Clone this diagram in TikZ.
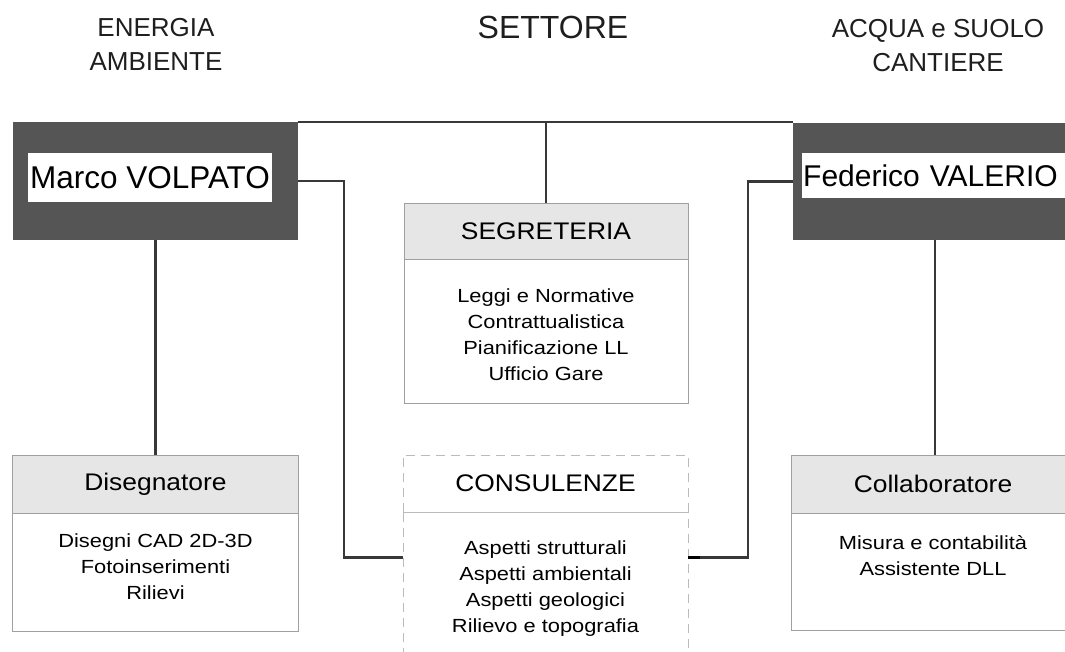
\documentclass[tikz,border=0pt]{standalone}
\usepackage{fontspec}
\setmainfont{Liberation Sans}
\usetikzlibrary{calc}
\definecolor{conncol}{HTML}{383838}
\definecolor{darkfill}{HTML}{555555}
\definecolor{hdrfill}{HTML}{E6E6E6}
\definecolor{boxline}{HTML}{A0A0A0}
\definecolor{dashline}{HTML}{BBBBBB}
\definecolor{labelcol}{HTML}{1E1E1E}
\begin{document}
\begin{tikzpicture}[x=1pt,y=-1pt,
  conn/.style={draw=conncol, line width=2.2pt},
  darkbox/.style={draw=none, fill=darkfill, inner sep=0pt},
  namebox/.style={draw=none, fill=white, inner sep=1pt, font=\fontsize{31.5}{36}\selectfont},
  hdr/.style={draw=boxline, fill=hdrfill, line width=0.8pt, inner sep=0pt, minimum height=58},
  bdy/.style={draw=boxline, fill=white, line width=0.8pt, inner sep=0pt, anchor=north},
  dashhdr/.style={draw=dashline, fill=white, line width=0.9pt, dash pattern=on 9pt off 6pt, inner sep=0pt, minimum height=57},
  dashbdy/.style={draw=dashline, fill=white, line width=0.9pt, dash pattern=on 9pt off 6pt, inner sep=0pt, anchor=north},
  titletext/.style={font=\fontsize{24}{28}\selectfont, xscale=1.1, transform shape, inner sep=0pt},
  bodytext/.style={font=\fontsize{19}{26}\selectfont, align=center, xscale=1.15, transform shape, inner sep=0pt},
  toplabel/.style={font=\fontsize{26}{34}\selectfont, align=center, text=labelcol, inner sep=0pt}
]
\useasboundingbox (0,0) rectangle (1065,652);

% top labels
\node[toplabel] (lblleft) at (156,44.5) {ENERGIA\\AMBIENTE};
\node[toplabel, font=\fontsize{32}{36}\selectfont] (lblmid) at (553,27) {SETTORE};
\node[toplabel] (lblright) at (938,45.5) {ACQUA e SUOLO\\CANTIERE};

% heads
\node[darkbox, minimum width=285, minimum height=118] (volpato) at (155.5,181) {};
\node[namebox, minimum width=244, minimum height=49] (volpatoname) at (150,177.5) {Marco VOLPATO};
\node[darkbox, minimum width=284, minimum height=117] (valerio) at (935,181.5) {};
\node[namebox, font=\fontsize{30}{36}\selectfont, text width=261, align=left, minimum height=45, anchor=west] (valerioname) at (802,175.5) {Federico VALERIO};

% segreteria
\node[hdr, minimum width=284, minimum height=56] (seghead) at (546,231) {};
\node[titletext] (segtitle) at (seghead.center) {SEGRETERIA};
\node[bdy, minimum width=284, minimum height=144] (segbody) at (seghead.south) {};
\node[bodytext] (segtext) at ($(segbody.north)+(0,75)$) {Leggi e Normative\\Contrattualistica\\Pianificazione LL\\Ufficio Gare};

% consulenze
\node[dashhdr, minimum width=285] (conshead) at (545.5,483.5) {};
\node[titletext] (constitle) at (conshead.center) {CONSULENZE};
\node[dashbdy, minimum width=285, minimum height=150] (consbody) at (conshead.south) {};
\node[bodytext] (constext) at ($(consbody.north)+(0,76)$) {Aspetti strutturali\\Aspetti ambientali\\Aspetti geologici\\Rilievo e topografia};

% disegnatore
\node[hdr, minimum width=286] (dishead) at (155.5,484) {};
\node[titletext] (distitle) at (dishead.center) {Disegnatore};
\node[bdy, minimum width=286, minimum height=118] (disbody) at (dishead.south) {};
\node[bodytext] (distext) at ($(disbody.north)+(0,53)$) {Disegni CAD 2D-3D\\Fotoinserimenti\\Rilievi};

% collaboratore
\node[hdr, minimum width=284] (colhead) at (933,484) {};
\node[titletext] (coltitle) at (colhead.center) {Collaboratore};
\node[bdy, minimum width=284, minimum height=117] (colbody) at (colhead.south) {};
\node[bodytext] (coltext) at ($(colbody.north)+(0,42.5)$) {Misura e contabilità\\Assistente DLL};

% connector end points on consulenze
\coordinate (cinL) at ($(consbody.north west)+(0,45)$);
\coordinate (cinR) at ($(consbody.north east)+(0,45)$);

% connectors
\draw[conn] (volpato.north east) -- (volpato.north east -| valerio.west);
\draw[conn] (seghead.north) -- (seghead.north |- volpato.north);
\draw[conn] (volpato.east) -- ++(46,0) |- (cinL);
\draw[conn] (valerio.west) -- ++(-45,0) |- (cinR);
\draw[conn, line width=3.5pt, draw=black] (cinR) -- ++(12,0);
\draw[conn] (volpato.south) -- (volpato.south |- dishead.north);
\draw[conn] (valerio.south) -- (valerio.south |- colhead.north);
\end{tikzpicture}
\end{document}
